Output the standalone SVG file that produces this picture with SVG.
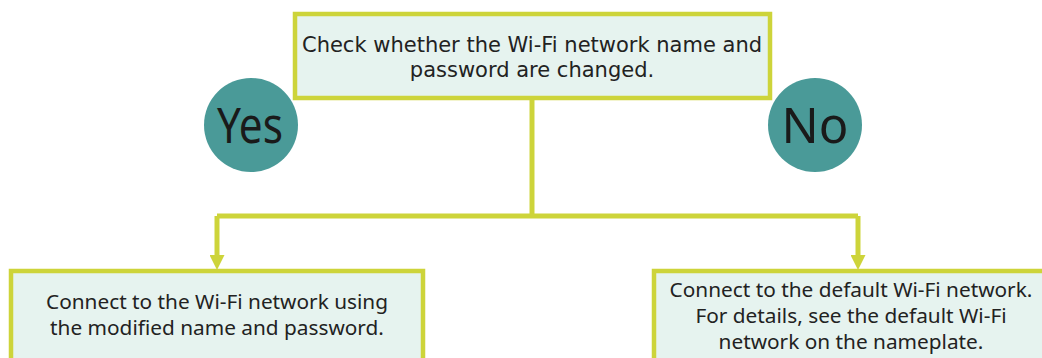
<svg xmlns="http://www.w3.org/2000/svg" width="1042" height="358" viewBox="0 0 1042 358">
<style>
.box{fill:#e6f3ef;stroke:#cdd43a;stroke-width:4.5}
.conn{fill:none;stroke:#cdd43a;stroke-width:5}
.circ{fill:#4a9a98}
.t1{font-family:"DejaVu Sans",sans-serif;font-size:21px;fill:#222;text-anchor:middle}
.t2{font-family:"Noto Sans",sans-serif;font-size:20.8px;fill:#222;text-anchor:middle}
.big{font-family:"Noto Sans",sans-serif;font-size:49px;fill:#1a1a1a;text-anchor:middle}
</style>
<defs>
<marker id="arr" markerWidth="3" markerHeight="3" refX="1.4" refY="1.5" orient="auto" markerUnits="strokeWidth">
<path d="M0,0 L3,1.5 L0,3 Z" fill="#cdd43a"/>
</marker>
</defs>
<g id="connectors">
<path class="conn" d="M532,99 V216"/>
<path class="conn" d="M217,216 H858"/>
<path class="conn" d="M217,216 V262" marker-end="url(#arr)"/>
<path class="conn" d="M858,216 V262" marker-end="url(#arr)"/>
</g>
<g id="check">
<rect class="box" x="295" y="14" width="475" height="84"/>
<text class="t1" x="532" y="52">Check whether the Wi-Fi network name and</text>
<text class="t1" x="532" y="77">password are changed.</text>
</g>
<g id="yes">
<circle class="circ" cx="251" cy="125" r="47"/>
<text class="big" x="250" y="143" textLength="66" lengthAdjust="spacingAndGlyphs">Yes</text>
</g>
<g id="no">
<circle class="circ" cx="815" cy="125" r="47"/>
<text class="big" x="815" y="143">No</text>
</g>
<g id="left">
<rect class="box" x="11" y="271" width="412" height="100"/>
<text class="t2" x="217" y="309">Connect to the Wi-Fi network using</text>
<text class="t2" x="217" y="335">the modified name and password.</text>
</g>
<g id="right">
<rect class="box" x="654" y="271" width="400" height="100"/>
<text class="t2" x="851" y="297">Connect to the default Wi-Fi network.</text>
<text class="t2" x="851" y="323">For details, see the default Wi-Fi</text>
<text class="t2" x="851" y="349">network on the nameplate.</text>
</g>
</svg>
